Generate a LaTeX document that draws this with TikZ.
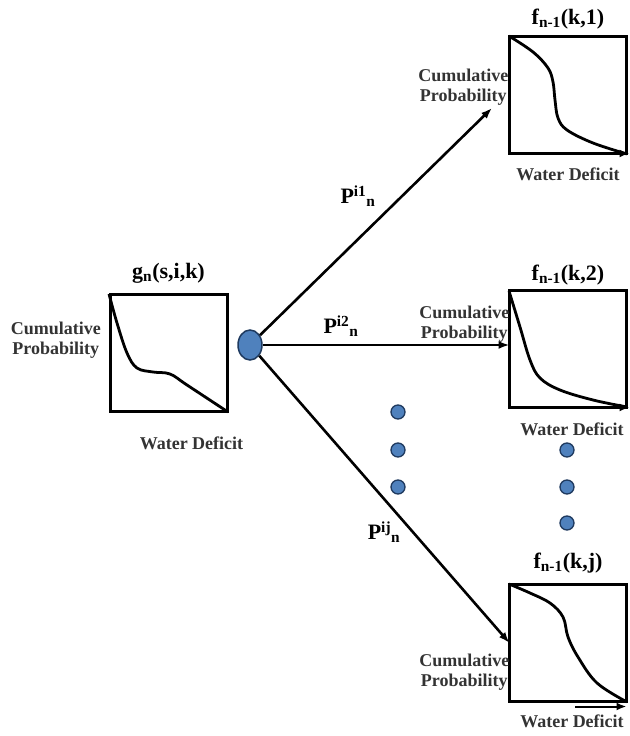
\documentclass[tikz,border=0pt]{standalone}
\usepackage{fontspec}
\setmainfont{Liberation Serif}
\usetikzlibrary{positioning, arrows.meta, shapes.geometric}
\definecolor{dotBlue}{HTML}{4F81BD}
\definecolor{dotEdge}{HTML}{1F3A5F}
\definecolor{labelInk}{HTML}{333333}

\begin{document}
\begin{tikzpicture}[
  x=1pt, y=-1pt,
  box/.style = {rectangle, draw=black, line width=3pt,
                minimum size=117pt, inner sep=0pt, outer sep=0pt},
  title/.style = {font=\fontsize{22}{24}\selectfont\bfseries, inner sep=0pt},
  axislabel/.style = {font=\fontsize{18}{20}\selectfont\bfseries,
                      text=labelInk, align=center, inner sep=0pt},
  prob/.style = {font=\fontsize{22}{24}\selectfont\bfseries, inner sep=0pt},
  arrow/.style = {-{Latex[length=11pt, width=8pt]}, line width=2.6pt},
  axisarrow/.style = {-{Latex[length=10pt, width=8pt]}, line width=3pt},
  curve/.style = {line width=2.8pt, smooth, tension=0.6},
  dot/.style = {circle, draw=dotEdge, fill=dotBlue, line width=1.3pt,
                minimum size=14pt, inner sep=0pt},
]
\useasboundingbox (0,0) rectangle (629,736);

% Current distribution
\node[box] (g) at (168.5,353) {};
\node[title, above=11pt of g] (gtitle) {g\textsubscript{n}(s,i,k)};
\node[axislabel, left=9pt of g, yshift=13pt] (gcum) {Cumulative\\Probability};
\node[axislabel, below=25pt of g, xshift=23pt] (gwd) {Water Deficit};
\draw[curve] plot coordinates {(109,294) (117,323) (127,353) (137,368)
  (153,372) (170,374) (187,385) (228,412)};

% Branch point
\node[ellipse, draw=dotEdge, fill=dotBlue, line width=1.5pt,
      minimum width=24pt, minimum height=30pt, inner sep=0pt] (split) at (250,345) {};

% Next-stage distributions
\node[box] (f1) at (568,95) {};
\node[title, above=7pt of f1] (f1title) {f\textsubscript{n-1}(k,1)};
\node[axislabel, left=1pt of f1, yshift=8pt] (f1cum) {Cumulative\\Probability};
\node[axislabel, below=14pt of f1] (f1wd) {Water Deficit};
\draw[curve] plot coordinates {(509,36) (533,52) (548,68) (553,82)
  (555,100) (558,118) (567,130) (593,143) (627,154)};
\draw[axisarrow] ([xshift=7pt]f1.south) -- ([xshift=3pt]f1.south east);

\node[box] (f2) at (568,349) {};
\node[title, above=5pt of f2] (f2title) {f\textsubscript{n-1}(k,2)};
\node[axislabel, left=0pt of f2, yshift=25pt] (f2cum) {Cumulative\\Probability};
\node[axislabel, below=15pt of f2, xshift=4pt] (f2wd) {Water Deficit};
\draw[curve] plot coordinates {(509,291) (520,327) (530,360) (540,378)
  (560,390) (593,400) (627,407)};
\draw[axisarrow] ([xshift=7pt]f2.south) -- ([xshift=3pt]f2.south east);

\node[box] (fj) at (568,643) {};
\node[title, above=11pt of fj] (fjtitle) {f\textsubscript{n-1}(k,j)};
\node[axislabel, left=0pt of fj, yshift=-29pt] (fjcum) {Cumulative\\Probability};
\node[axislabel, below=13pt of fj, xshift=4pt] (fjwd) {Water Deficit};
\draw[curve] plot coordinates {(509,584) (530,593) (550,603) (563,617)
  (568,637) (578,657) (597,683) (627,702)};
\coordinate (fjaxis) at ([yshift=-5pt]fj.south east);
\draw[axisarrow, line width=2pt] ([xshift=7pt, yshift=-5pt]fj.south) -- (fjaxis);

% Dots for the omitted branches
\foreach \y [count=\i] in {412,450,487}
  \node[dot] (ldot\i) at (398,\y) {};
\foreach \y [count=\i] in {450,487,523}
  \node[dot] (rdot\i) at (567,\y) {};

% Transition probabilities
\coordinate (in1) at (492,108);
\draw[arrow] (split) -- (in1);
\draw[arrow] (split) -- (split -| f2.west);
\draw[arrow] (split) -- (fj.west);
\node[prob] (p1) at (358,196) {P\textsuperscript{i1}\textsubscript{n}};
\node[prob] (p2) at (341,326) {P\textsuperscript{i2}\textsubscript{n}};
\node[prob] (pj) at (384,532) {P\textsuperscript{ij}\textsubscript{n}};

\end{tikzpicture}
\end{document}
